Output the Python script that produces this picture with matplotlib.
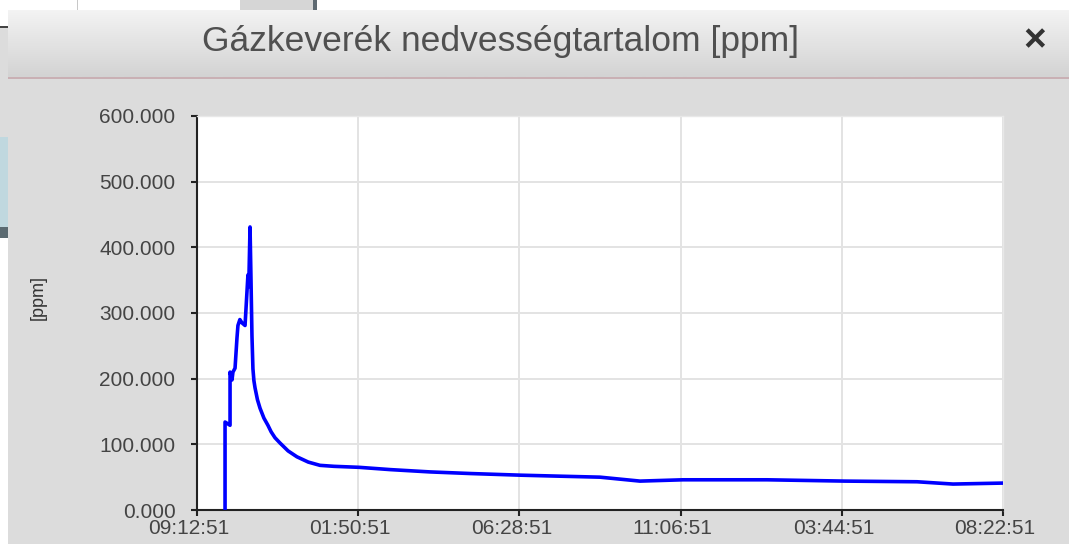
import numpy as np
import matplotlib
matplotlib.use("Agg")
import matplotlib.pyplot as plt
from matplotlib.patches import Rectangle
from matplotlib.colors import LinearSegmentedColormap
from matplotlib.ticker import FuncFormatter
import matplotlib.transforms as mtransforms

plt.rcParams['font.family'] = ['Liberation Sans', 'DejaVu Sans']

# DATA ---------------------------------------------------------------------------------------------
title = "Gázkeverék nedvességtartalom [ppm]"
y_label = "[ppm]"
x_tick_labels = ["09:12:51", "01:50:51", "06:28:51", "11:06:51", "03:44:51", "08:22:51"]
y_ticks = [0, 100, 200, 300, 400, 500, 600]

# time position in tick steps, humidity in ppm
t = [0.174, 0.174, 0.205, 0.205, 0.217, 0.223, 0.236, 0.248, 0.254, 0.266, 0.279, 0.298,
     0.316, 0.321, 0.329, 0.335, 0.341, 0.347, 0.353, 0.360, 0.375, 0.391, 0.415, 0.440,
     0.460, 0.484, 0.515, 0.565, 0.620, 0.690, 0.763, 0.850, 1.005, 1.200, 1.445, 1.700,
     2.010, 2.250, 2.500, 2.748, 3.015, 3.536, 4.020, 4.467, 4.690, 5.000]
ppm = [0, 134, 129, 210, 198, 210, 216, 262, 281, 290, 285, 281,
       358, 340, 431, 350, 265, 215, 197, 186, 168, 155, 140, 129,
       119, 110, 102, 90, 81, 73, 68, 66.5, 65, 61.5, 58, 55.5,
       53, 51.5, 50, 44, 46, 46, 44, 43, 39.5, 41]

# FIGURE -------------------------------------------------------------------------------------------
W, H = 1069, 544
fig = plt.figure(figsize=(W / 100, H / 100), dpi=100)
fig.patch.set_facecolor('white')

def box(x0, y0, x1, y1, color, z=-5):
    # rectangle in pixel coords, y measured from top
    fig.add_artist(Rectangle((x0 / W, 1 - y1 / H), (x1 - x0) / W, (y1 - y0) / H,
                             transform=fig.transFigure, facecolor=color, lw=0, zorder=z))

# background window bits behind the dialog
box(77, 0, 78, 10, '#c8c8c8')
box(240, 0, 313, 10, '#d6d6d6')
box(313, 0, 317, 10, '#5f6a72')
box(0, 26, 8, 28, '#444444')
box(0, 28, 8, 137, '#dcdcdc')
box(0, 137, 8, 227, '#c0d8df')
box(0, 227, 8, 238, '#5b6a71')

# dialog body and title bar
box(8, 10, W, H, '#dcdcdc')
box(8, 77, W, 79, '#c9b0b4', z=-4)
bar = fig.add_axes([8 / W, 1 - 77 / H, (W - 8) / W, 67 / H])
cmap = LinearSegmentedColormap.from_list('bar', ['#f3f3f3', '#d3d3d3'])
bar.imshow(np.linspace(0, 1, 64)[:, None], aspect='auto', cmap=cmap, extent=[0, 1, 0, 1])
bar.axis('off')

fig.text(500 / W, 1 - 42 / H, title, ha='center', va='center', fontsize=25.5, color='#505050')
fig.text(1035 / W, 1 - 41 / H, "×", ha='center', va='center', fontsize=28,
         fontweight='bold', color='#333333')

# PLOT ---------------------------------------------------------------------------------------------
ax = fig.add_axes([197 / W, 1 - 510 / H, (1003 - 197) / W, (510 - 116) / H])
ax.set_facecolor('white')
ax.plot(t, ppm, color='#0000ff', lw=2.6, solid_joinstyle='round', zorder=3)

ax.set_xlim(0, 5)
ax.set_ylim(0, 600)
ax.set_xticks(range(len(x_tick_labels)))
ax.set_xticklabels(x_tick_labels)
ax.set_yticks(y_ticks)
ax.yaxis.set_major_formatter(FuncFormatter(lambda v, p: f"{v:.3f}"))

ax.grid(True, color='#e3e3e3', lw=1.4)
ax.set_axisbelow(True)
for side in ['top', 'right']:
    ax.spines[side].set_color('#e8e8e8')
    ax.spines[side].set_linewidth(1)
for side in ['left', 'bottom']:
    ax.spines[side].set_color('#222222')
    ax.spines[side].set_linewidth(1.5)

ax.tick_params(direction='out', length=4.5, width=1.5, color='#222222',
               labelsize=15, labelcolor='#444444')
ax.tick_params(axis='y', pad=11)
ax.tick_params(axis='x', pad=2)

shift = mtransforms.ScaledTranslation(-8 / 100, 0, fig.dpi_scale_trans)
for lbl in ax.get_xticklabels():
    lbl.set_transform(lbl.get_transform() + shift)

fig.text(38 / W, 1 - 297 / H, y_label, rotation=90, ha='center', va='center',
         fontsize=13, color='#333333')

fig.savefig('out.png', dpi=100)
